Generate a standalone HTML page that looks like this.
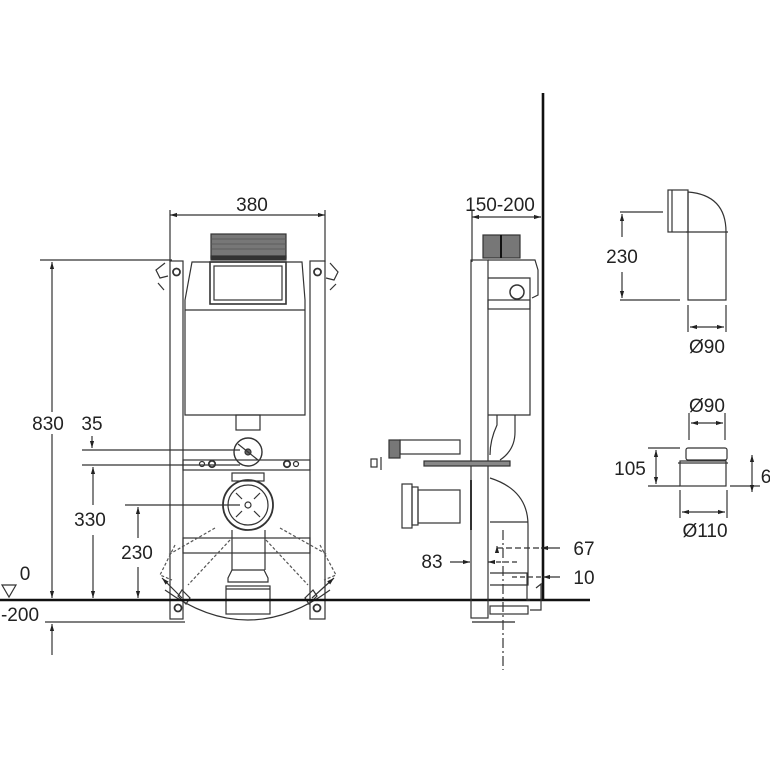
<!DOCTYPE html>
<html><head><meta charset="utf-8"><style>html,body{margin:0;padding:0;background:#fff}svg{display:block}text{font-family:"Liberation Sans",sans-serif;fill:#222}</style></head>
<body>
<svg width="770" height="770" viewBox="0 0 770 770" xmlns="http://www.w3.org/2000/svg">
<defs>
<marker id="a" viewBox="0 0 10 10" refX="10" refY="5" markerWidth="6" markerHeight="6" orient="auto-start-reverse"><path d="M0,2 L10,5 L0,8 z" fill="#222"/></marker>
</defs>
<g fill="none" stroke="#333" stroke-width="1.2">
<line x1="170" y1="210" x2="170" y2="262"/><line x1="325" y1="210" x2="325" y2="262"/>
<line x1="170" y1="215" x2="325" y2="215" marker-start="url(#a)" marker-end="url(#a)"/>
<line x1="40" y1="260" x2="172" y2="260"/>
<line x1="52" y1="262" x2="52" y2="412" marker-start="url(#a)"/>
<line x1="52" y1="434" x2="52" y2="598" marker-end="url(#a)"/>
<line x1="52" y1="624" x2="52" y2="655" marker-start="url(#a)"/>
<line x1="82" y1="450" x2="240" y2="450"/><line x1="82" y1="465" x2="240" y2="465"/>
<line x1="92" y1="436" x2="92" y2="448" marker-end="url(#a)"/>
<line x1="93" y1="467" x2="93" y2="505" marker-start="url(#a)"/>
<line x1="93" y1="535" x2="93" y2="598" marker-end="url(#a)"/>
<line x1="125" y1="505" x2="240" y2="505"/>
<line x1="138" y1="507" x2="138" y2="538" marker-start="url(#a)"/>
<line x1="138" y1="567" x2="138" y2="598" marker-end="url(#a)"/>
<line x1="45" y1="622" x2="185" y2="622"/>
<rect x="170" y="261" width="13" height="358"/><rect x="310" y="261" width="15" height="358"/>
<circle cx="176.5" cy="272" r="3.5" stroke-width="1.8"/><circle cx="317.5" cy="272" r="3.5" stroke-width="1.8"/>
<circle cx="178" cy="608" r="3.5" stroke-width="1.8"/><circle cx="317" cy="608" r="3.5" stroke-width="1.8"/>
<path d="M192,262 L302,262 L305,300 L305,415 L185,415 L185,300 Z"/>
<line x1="185" y1="310" x2="305" y2="310"/>
<rect x="210" y="262" width="76" height="42" stroke-width="1.6"/>
<rect x="214" y="266" width="68" height="34"/>
<rect x="211" y="234" width="75" height="24" fill="#777" stroke="#333"/>
<g stroke="#555" stroke-width="0.7"><line x1="211" y1="239" x2="286" y2="239"/><line x1="211" y1="244" x2="286" y2="244"/><line x1="211" y1="249" x2="286" y2="249"/></g>
<rect x="211" y="256" width="75" height="4" fill="#333"/>
<rect x="236" y="415" width="24" height="15"/>
<circle cx="248" cy="452" r="14" stroke-width="1.4"/>
<circle cx="248" cy="452" r="3" fill="#666"/>
<line x1="238" y1="444" x2="258" y2="460"/>
<rect x="183" y="460" width="127" height="10"/>
<circle cx="202" cy="464" r="2.5"/><circle cx="212" cy="464" r="3.2" stroke-width="1.8"/>
<circle cx="287" cy="464" r="3.2" stroke-width="1.8"/><circle cx="296" cy="464" r="2.5"/>
<rect x="232" y="473" width="32" height="8"/>
<circle cx="248" cy="505" r="25" stroke-width="1.8"/>
<circle cx="248" cy="505" r="20"/>
<circle cx="248" cy="505" r="3"/>
<line x1="236" y1="493" x2="242" y2="499"/><line x1="260" y1="493" x2="254" y2="499"/>
<line x1="236" y1="517" x2="242" y2="511"/><line x1="260" y1="517" x2="254" y2="511"/>
<line x1="232" y1="530" x2="232" y2="570"/><line x1="265" y1="530" x2="265" y2="570"/>
<rect x="183" y="538" width="127" height="15"/>
<path d="M232,570 L264,570 L268,578 L268,582 L228,582 L228,578 Z"/>
<rect x="226" y="586" width="44" height="28"/>
<line x1="226" y1="589" x2="270" y2="589"/>
<g stroke-dasharray="3,2" stroke="#555">
<path d="M215,528 L168,555 M230,540 L188,585 M280,528 L328,555 M266,540 L308,585"/>
<path d="M175,545 L160,575 L172,580 M320,545 L336,575 L324,580"/>
</g>
<path d="M165,590 Q248,650 330,590"/>
<line x1="182" y1="598" x2="162" y2="578" marker-end="url(#a)"/>
<line x1="312" y1="598" x2="334" y2="578" marker-end="url(#a)"/>
<path d="M182,590 L190,598 L186,604 L178,596 Z"/>
<path d="M313,590 L305,598 L309,604 L317,596 Z"/>
<path d="M165,263 L156,270 L160,278 L168,276"/><path d="M158,283 L164,290"/>
<path d="M330,263 L338,272 L334,280 L326,278"/><path d="M336,284 L330,290"/>
<path d="M2,585 L16,585 L9,597 Z"/>
<line x1="0" y1="600" x2="590" y2="600" stroke="#111" stroke-width="2.4"/>
<line x1="543" y1="93" x2="543" y2="601" stroke="#111" stroke-width="2.6"/>
<line x1="472" y1="210" x2="472" y2="262"/>
<line x1="472" y1="217" x2="541" y2="217" marker-start="url(#a)" marker-end="url(#a)"/>
<rect x="483" y="235" width="37" height="23" fill="#777"/>
<line x1="501" y1="235" x2="501" y2="258" stroke="#111" stroke-width="2"/>
<rect x="471" y="260" width="17" height="358"/>
<path d="M488,260 L535,260 L538,270 L538,295 L532,298"/>
<path d="M488,278 L530,278 L530,415 L488,415"/>
<circle cx="517" cy="292" r="7" stroke-width="1.5"/>
<rect x="488" y="300" width="42" height="9"/>
<path d="M497,415 L497,425 Q490,440 490,455 M515,415 L515,432 Q515,450 500,460"/>
<rect x="400" y="440" width="60" height="14"/>
<rect x="389" y="440" width="11" height="18" fill="#777"/>
<rect x="371" y="459" width="6" height="8"/><line x1="381" y1="457" x2="381" y2="470"/>
<rect x="424" y="461" width="86" height="5" fill="#888"/>
<rect x="402" y="484" width="10" height="44"/><rect x="412" y="487" width="6" height="38"/>
<rect x="418" y="490" width="42" height="33"/>
<line x1="471" y1="480" x2="471" y2="530" stroke-width="2"/>
<path d="M490,478 Q528,490 528,525 L528,585 L490,585"/>
<line x1="490" y1="522" x2="528" y2="522"/>
<path d="M490,573 L527,573 L527,600 L530,600"/>
<rect x="490" y="606" width="38" height="8"/>
<line x1="472" y1="622" x2="515" y2="622" stroke-width="2" stroke="#777"/>
<line x1="503" y1="530" x2="503" y2="670" stroke-dasharray="10,3,2,3"/>
<line x1="497" y1="548" x2="541" y2="548" stroke-dasharray="6,3"/>
<line x1="497" y1="551" x2="497" y2="546" marker-end="url(#a)"/>
<line x1="560" y1="548" x2="541" y2="548" marker-end="url(#a)"/>
<line x1="450" y1="562" x2="470" y2="562" marker-end="url(#a)"/>
<line x1="488" y1="562" x2="520" y2="562" marker-start="url(#a)" stroke-dasharray="5,3"/>
<line x1="512" y1="577" x2="541" y2="577" stroke-dasharray="5,3"/>
<line x1="560" y1="577" x2="543" y2="577" marker-end="url(#a)"/>
<path d="M536,588 L541,584 L541,610 L530,610"/>
<rect x="668" y="190" width="20" height="42"/>
<line x1="672" y1="190" x2="672" y2="232"/>
<path d="M688,192 Q726,195 726,232 L726,300 L688,300 L688,232 Z"/>
<line x1="686" y1="232" x2="728" y2="232"/>
<line x1="620" y1="212" x2="663" y2="212"/>
<line x1="620" y1="300" x2="680" y2="300"/>
<line x1="622" y1="237" x2="622" y2="214" marker-end="url(#a)"/>
<line x1="622" y1="272" x2="622" y2="298" marker-end="url(#a)"/>
<line x1="688" y1="305" x2="688" y2="332"/><line x1="726" y1="305" x2="726" y2="332"/>
<line x1="690" y1="327" x2="724" y2="327" marker-start="url(#a)" marker-end="url(#a)"/>
<line x1="689" y1="413" x2="689" y2="440"/><line x1="725" y1="413" x2="725" y2="440"/>
<line x1="691" y1="423" x2="723" y2="423" marker-start="url(#a)" marker-end="url(#a)"/>
<rect x="686" y="448" width="41" height="12" rx="2"/>
<rect x="680" y="461" width="46" height="25"/>
<line x1="678" y1="463" x2="728" y2="463"/>
<line x1="648" y1="448" x2="680" y2="448"/><line x1="648" y1="486" x2="680" y2="486"/>
<line x1="656" y1="450" x2="656" y2="484" marker-start="url(#a)" marker-end="url(#a)"/>
<line x1="730" y1="486" x2="760" y2="486"/>
<line x1="752" y1="455" x2="752" y2="492" marker-start="url(#a)" marker-end="url(#a)"/>
<line x1="680" y1="490" x2="680" y2="518"/><line x1="727" y1="490" x2="727" y2="518"/>
<line x1="682" y1="512" x2="725" y2="512" marker-start="url(#a)" marker-end="url(#a)"/>
</g>
<g font-size="19">
<text x="252" y="211" text-anchor="middle">380</text>
<text x="500" y="211" text-anchor="middle">150-200</text>
<text x="48" y="430" text-anchor="middle">830</text>
<text x="92" y="430" text-anchor="middle">35</text>
<text x="90" y="526" text-anchor="middle">330</text>
<text x="137" y="559" text-anchor="middle">230</text>
<text x="25" y="580" text-anchor="middle">0</text>
<text x="20" y="621" text-anchor="middle">-200</text>
<text x="432" y="568" text-anchor="middle">83</text>
<text x="584" y="555" text-anchor="middle">67</text>
<text x="584" y="584" text-anchor="middle">10</text>
<text x="622" y="263" text-anchor="middle">230</text>
<text x="707" y="353" text-anchor="middle">Ø90</text>
<text x="707" y="412" text-anchor="middle">Ø90</text>
<text x="630" y="475" text-anchor="middle">105</text>
<text x="766" y="483" text-anchor="middle">6</text>
<text x="705" y="537" text-anchor="middle">Ø110</text>
</g>
</svg>
</body></html>
